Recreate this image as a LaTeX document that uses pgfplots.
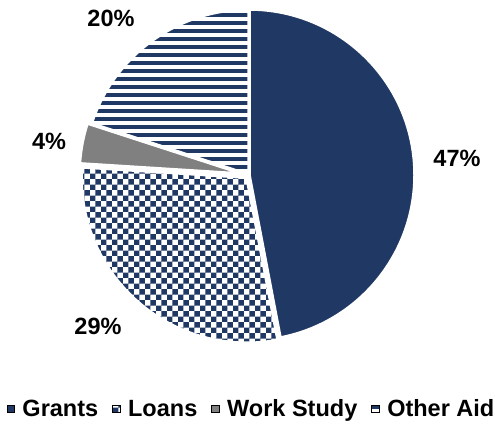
\documentclass[border=0pt]{standalone}
\usepackage{pgfplots}
\pgfplotsset{compat=1.18}
\usepackage{pgfplotstable}
\usepackage{fontspec}
\setmainfont{Liberation Sans}
\usetikzlibrary{patterns,patterns.meta,calc}

\definecolor{navy}{RGB}{32,56,100}
\definecolor{wsgray}{RGB}{128,128,128}

% share of aid (%), explosion (pt), label position (axis units = pt)
\pgfplotstableread{
label value explode lx ly
Grants 47 0 457 265
Loans 29 3 98 97
Work 4 4 49 282
Other 20 0 111 405
}\piedata

\tikzset{
  slice0/.style={fill=navy},
  slice1/.style={pattern=checkerboard, pattern color=navy},
  slice2/.style={fill=wsgray},
  slice3/.style={pattern={Lines[angle=0,distance=8pt,line width=4.4pt]}, pattern color=navy},
}
\newcommand\lblfont{\bfseries\fontsize{23.5}{28}\selectfont}

\begin{document}
\begin{tikzpicture}
  % cumulative angles, clockwise from 12 o'clock
  \def\cum{0}
  \pgfplotsforeachungrouped \i in {0,...,3}{%
    \pgfplotstablegetelem{\i}{value}\of\piedata \let\v\pgfplotsretval
    \pgfmathsetmacro{\sa}{90-3.6*\cum}%
    \pgfmathsetmacro{\cum}{\cum+\v}%
    \pgfmathsetmacro{\ea}{90-3.6*\cum}%
    \pgfmathsetmacro{\mid}{(\sa+\ea)/2}%
    \expandafter\xdef\csname sa\i\endcsname{\sa}%
    \expandafter\xdef\csname ea\i\endcsname{\ea}%
    \expandafter\xdef\csname mid\i\endcsname{\mid}%
    \expandafter\xdef\csname val\i\endcsname{\v}%
    \pgfplotstablegetelem{\i}{explode}\of\piedata
    \expandafter\xdef\csname ex\i\endcsname{\pgfplotsretval}%
    \pgfplotstablegetelem{\i}{lx}\of\piedata
    \expandafter\xdef\csname lx\i\endcsname{\pgfplotsretval}%
    \pgfplotstablegetelem{\i}{ly}\of\piedata
    \expandafter\xdef\csname ly\i\endcsname{\pgfplotsretval}%
  }
  \begin{axis}[
      x=1pt, y=1pt,
      xmin=0, xmax=495, ymin=0, ymax=423,
      hide axis, clip=false,
      legend columns=-1,
      legend image code/.code={\fill[#1] (0pt,-3.5pt) rectangle (7.5pt,3.5pt);},
      legend style={
        at={(0.508,0.033)}, anchor=center,
        draw=none, fill=none,
        font=\lblfont,
        /tikz/every odd column/.append style={column sep=6pt},
        /tikz/every even column/.append style={column sep=12pt},
      },
    ]
    \pgfplotsinvokeforeach{0,...,3}{
      \filldraw[slice#1, draw=white, line width=3.5pt, line join=round]
        ($(axis cs:249,248)+(\csname mid#1\endcsname:\csname ex#1\endcsname pt)$)
        -- ++(\csname sa#1\endcsname:166pt)
        arc[start angle=\csname sa#1\endcsname, end angle=\csname ea#1\endcsname, radius=166pt]
        -- cycle;
      \node[font=\lblfont, inner sep=0pt] at (axis cs:\csname lx#1\endcsname,\csname ly#1\endcsname)
        {\csname val#1\endcsname\%};
    }
    \addlegendimage{slice0}\addlegendentry{Grants}
    \addlegendimage{slice1}\addlegendentry{Loans}
    \addlegendimage{slice2}\addlegendentry{Work Study}
    \addlegendimage{slice3}\addlegendentry{Other Aid}
  \end{axis}
  \pgfresetboundingbox
  \path (current axis.south west) rectangle (current axis.north east);
\end{tikzpicture}
\end{document}
